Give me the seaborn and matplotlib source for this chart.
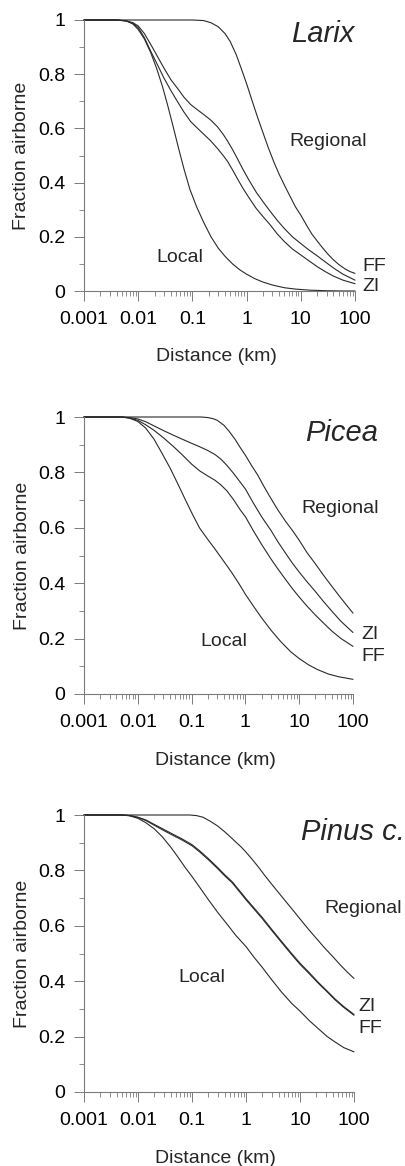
import matplotlib
matplotlib.use("Agg")
import matplotlib.pyplot as plt
import pandas as pd
import seaborn as sns
from matplotlib.ticker import FixedLocator, FixedFormatter, NullFormatter

# ---------------- data ----------------
# Larix
larix_regional_d = [0.001, 0.1, 0.16, 0.22, 0.3, 0.4, 0.5, 0.65, 0.8, 1.0, 1.25, 1.6, 2.0, 2.5,
                    3.2, 4.0, 5.0, 6.5, 8.0, 10, 13, 16, 20, 25, 32, 40, 50, 65, 80, 100]
larix_regional = [1, 1, 0.998, 0.99, 0.975, 0.95, 0.92, 0.87, 0.82, 0.765, 0.705, 0.64, 0.585, 0.53,
                  0.475, 0.43, 0.39, 0.345, 0.31, 0.28, 0.24, 0.21, 0.185, 0.16, 0.135, 0.115, 0.098,
                  0.082, 0.072, 0.065]
larix_mid_d = [0.001, 0.004, 0.006, 0.008, 0.01, 0.013, 0.017, 0.022, 0.03, 0.04, 0.053, 0.07, 0.093,
               0.125, 0.165, 0.22, 0.29, 0.37, 0.45, 0.55, 0.67, 0.85, 1.1, 1.5, 2.0, 2.7, 3.7, 5.0,
               7.0, 10, 14, 20, 28, 40, 60, 100]
larix_ff = [1, 1, 0.997, 0.99, 0.978, 0.95, 0.91, 0.87, 0.822, 0.78, 0.748, 0.715, 0.688, 0.668,
            0.65, 0.63, 0.606, 0.578, 0.552, 0.522, 0.49, 0.45, 0.41, 0.365, 0.33, 0.295, 0.26, 0.23,
            0.2, 0.175, 0.152, 0.13, 0.108, 0.085, 0.062, 0.04]
larix_zi = [1, 1, 0.996, 0.988, 0.972, 0.935, 0.885, 0.84, 0.785, 0.74, 0.699, 0.66, 0.625, 0.6,
            0.577, 0.553, 0.526, 0.5, 0.477, 0.447, 0.416, 0.38, 0.345, 0.305, 0.275, 0.245, 0.21,
            0.182, 0.155, 0.133, 0.112, 0.09, 0.072, 0.055, 0.04, 0.027]
larix_local_d = [0.001, 0.004, 0.006, 0.008, 0.01, 0.013, 0.017, 0.022, 0.028, 0.035, 0.045, 0.055,
                 0.07, 0.09, 0.12, 0.16, 0.22, 0.3, 0.4, 0.55, 0.75, 1.0, 1.4, 2.0, 3.0, 5.0, 8.0,
                 15, 30, 60, 100]
larix_local = [1, 1, 0.997, 0.985, 0.965, 0.93, 0.88, 0.82, 0.755, 0.685, 0.6, 0.53, 0.45, 0.375,
               0.31, 0.255, 0.2, 0.158, 0.128, 0.1, 0.078, 0.062, 0.046, 0.033, 0.022, 0.012, 0.007,
               0.003, 0.001, 0.0, 0.0]

# Picea
picea_regional_d = [0.001, 0.15, 0.2, 0.25, 0.3, 0.4, 0.5, 0.65, 0.8, 1.0, 1.3, 1.7, 2.2, 3.0, 4.0,
                    5.5, 7.5, 10, 14, 20, 28, 40, 55, 75, 100]
picea_regional = [1, 1, 0.998, 0.994, 0.988, 0.97, 0.948, 0.918, 0.89, 0.862, 0.825, 0.79, 0.75,
                  0.705, 0.665, 0.625, 0.59, 0.555, 0.51, 0.47, 0.43, 0.39, 0.355, 0.322, 0.292]
picea_mid_d = [0.001, 0.005, 0.007, 0.01, 0.014, 0.02, 0.03, 0.045, 0.065, 0.1, 0.14, 0.2, 0.27,
               0.35, 0.45, 0.6, 0.8, 1.0, 1.4, 2.0, 3.0, 4.0, 5.5, 7.5, 10, 14, 20, 28, 40, 60, 100]
picea_zi = [1, 1, 0.998, 0.993, 0.983, 0.968, 0.951, 0.935, 0.921, 0.905, 0.893, 0.879, 0.865,
            0.848, 0.826, 0.797, 0.765, 0.74, 0.69, 0.64, 0.59, 0.55, 0.51, 0.472, 0.44, 0.405,
            0.37, 0.335, 0.3, 0.262, 0.222]
picea_ff = [1, 1, 0.996, 0.988, 0.972, 0.952, 0.925, 0.895, 0.866, 0.83, 0.806, 0.787, 0.772,
            0.755, 0.734, 0.702, 0.665, 0.64, 0.59, 0.54, 0.487, 0.452, 0.415, 0.38, 0.35, 0.317,
            0.285, 0.257, 0.228, 0.2, 0.172]
picea_local_d = [0.001, 0.005, 0.007, 0.01, 0.014, 0.02, 0.028, 0.04, 0.055, 0.075, 0.1, 0.14, 0.2,
                 0.28, 0.4, 0.55, 0.75, 1.0, 1.4, 2.0, 3.0, 4.5, 7.0, 10, 15, 22, 35, 55, 100]
picea_local = [1, 1, 0.996, 0.984, 0.96, 0.92, 0.87, 0.815, 0.76, 0.705, 0.655, 0.6, 0.558, 0.52,
               0.478, 0.44, 0.4, 0.36, 0.318, 0.275, 0.23, 0.19, 0.152, 0.128, 0.105, 0.088, 0.072,
               0.062, 0.053]

# Pinus c.
pinus_regional_d = [0.001, 0.09, 0.12, 0.16, 0.22, 0.3, 0.4, 0.52, 0.65, 0.8, 1.0, 1.3, 1.7, 2.2,
                    3.0, 4.0, 5.5, 7.5, 10, 14, 20, 28, 40, 55, 75, 100]
pinus_regional = [1, 1, 0.998, 0.992, 0.977, 0.96, 0.94, 0.92, 0.902, 0.886, 0.866, 0.84, 0.812,
                  0.783, 0.75, 0.72, 0.687, 0.655, 0.625, 0.59, 0.555, 0.522, 0.49, 0.46, 0.433, 0.41]
pinus_mid_d = [0.001, 0.005, 0.007, 0.01, 0.014, 0.02, 0.03, 0.045, 0.065, 0.1, 0.14, 0.2, 0.3,
               0.4, 0.55, 0.75, 1.0, 1.4, 2.0, 3.0, 4.5, 7.0, 10, 15, 22, 32, 45, 65, 100]
pinus_zi = [1, 1, 0.998, 0.992, 0.982, 0.966, 0.948, 0.93, 0.914, 0.893, 0.87, 0.843, 0.81, 0.785,
            0.76, 0.728, 0.698, 0.665, 0.63, 0.587, 0.545, 0.5, 0.465, 0.43, 0.395, 0.364, 0.335,
            0.308, 0.28]
pinus_ff = [1, 1, 0.998, 0.991, 0.98, 0.963, 0.944, 0.926, 0.91, 0.889, 0.866, 0.839, 0.806, 0.781,
            0.756, 0.724, 0.694, 0.661, 0.626, 0.583, 0.541, 0.496, 0.461, 0.426, 0.392, 0.361,
            0.332, 0.305, 0.277]
pinus_local_d = [0.001, 0.005, 0.007, 0.01, 0.014, 0.02, 0.028, 0.04, 0.055, 0.075, 0.1, 0.14, 0.2,
                 0.3, 0.45, 0.65, 1.0, 1.4, 2.0, 3.0, 4.5, 7.0, 10, 15, 22, 32, 45, 65, 100]
pinus_local = [1, 1, 0.997, 0.988, 0.972, 0.95, 0.922, 0.885, 0.848, 0.81, 0.778, 0.738, 0.695,
               0.648, 0.605, 0.565, 0.525, 0.487, 0.45, 0.405, 0.362, 0.32, 0.292, 0.257, 0.228,
               0.2, 0.18, 0.16, 0.145]

x_tick_values = [0.001, 0.01, 0.1, 1, 10, 100]
x_tick_labels = ["0.001", "0.01", "0.1", "1", "10", "100"]
y_tick_values = [0, 0.2, 0.4, 0.6, 0.8, 1]
y_tick_labels = ["0", "0.2", "0.4", "0.6", "0.8", "1"]

panels = [
    ("Larix", [("Regional", larix_regional_d, larix_regional), ("FF", larix_mid_d, larix_ff),
               ("ZI", larix_mid_d, larix_zi), ("Local", larix_local_d, larix_local)]),
    ("Picea", [("Regional", picea_regional_d, picea_regional), ("ZI", picea_mid_d, picea_zi),
               ("FF", picea_mid_d, picea_ff), ("Local", picea_local_d, picea_local)]),
    ("Pinus c.", [("Regional", pinus_regional_d, pinus_regional), ("ZI", pinus_mid_d, pinus_zi),
                  ("FF", pinus_mid_d, pinus_ff), ("Local", pinus_local_d, pinus_local)]),
]

# ---------------- style ----------------
sns.set_style("ticks")
plt.rcParams["font.family"] = ["Liberation Sans", "DejaVu Sans"]

W, H = 406, 1166
fig = plt.figure(figsize=(W / 100, H / 100), dpi=100)

boxes = [(84, 355, 20, 291), (84, 353, 417, 694), (84, 354, 815, 1092)]

title_pos = [(0.882, 0.950), (0.959, 0.942), (0.996, 0.939)]
regional_pos = [(0.900, 0.553), (0.952, 0.671), (1.033, 0.664)]
local_pos = [(0.354, 0.122), (0.520, 0.188), (0.437, 0.415)]
end_labels = [
    [("FF", 1.026, 0.089), ("ZI", 1.026, 0.015)],
    [("ZI", 1.030, 0.213), ("FF", 1.030, 0.134)],
    [("ZI", 1.015, 0.307), ("FF", 1.015, 0.231)],
]

axis_grey = "#7a7a7a"
line_col = "#2a2a2a"
fs = 14

minor_x = [m * 10.0 ** e for e in range(-3, 2) for m in range(2, 10)]
minor_y = [0.1, 0.3, 0.5, 0.7, 0.9]

for i, (name, series) in enumerate(panels):
    l, r, t, b = boxes[i]
    ax = fig.add_axes([l / W, (H - b) / H, (r - l) / W, (b - t) / H])
    rows = []
    for curve, dists, vals in series:
        for d, v in zip(dists, vals):
            rows.append({"distance": d, "fraction": v, "curve": curve})
    df = pd.DataFrame(rows)
    sns.lineplot(data=df, x="distance", y="fraction", hue="curve",
                 palette={c[0]: line_col for c in series}, legend=False,
                 linewidth=0.8, ax=ax, clip_on=False, estimator=None, sort=True)
    ax.set_xscale("log")
    ax.set_xlim(0.001, 100)
    ax.set_ylim(0, 1)

    for s in ["top", "right"]:
        ax.spines[s].set_visible(False)
    for s in ["left", "bottom"]:
        ax.spines[s].set_color(axis_grey)
        ax.spines[s].set_linewidth(0.8)

    ax.xaxis.set_major_locator(FixedLocator(x_tick_values))
    ax.xaxis.set_major_formatter(FixedFormatter(x_tick_labels))
    ax.xaxis.set_minor_locator(FixedLocator(minor_x))
    ax.xaxis.set_minor_formatter(NullFormatter())
    ax.yaxis.set_major_locator(FixedLocator(y_tick_values))
    ax.yaxis.set_major_formatter(FixedFormatter(y_tick_labels))
    ax.yaxis.set_minor_locator(FixedLocator(minor_y))

    ax.tick_params(axis="both", which="major", direction="out", length=7.5, width=0.7,
                   color=axis_grey, labelsize=fs, labelcolor="black")
    ax.tick_params(axis="both", which="minor", direction="out", length=3.5, width=0.6,
                   color=axis_grey)
    ax.tick_params(axis="x", which="major", pad=7)
    ax.tick_params(axis="y", which="major", pad=6)

    ax.set_xlabel("Distance (km)", fontsize=fs, va="center", ha="center")
    ax.xaxis.set_label_coords(0.487, -0.240)
    ax.set_ylabel("Fraction airborne", fontsize=fs, va="center", ha="center")
    ax.yaxis.set_label_coords(-0.229, 0.5)

    ax.text(*title_pos[i], name, transform=ax.transAxes, fontsize=21, style="italic",
            ha="center", va="center")
    ax.text(*regional_pos[i], "Regional", transform=ax.transAxes, fontsize=fs,
            ha="center", va="center")
    ax.text(*local_pos[i], "Local", transform=ax.transAxes, fontsize=fs,
            ha="center", va="center")
    for lab, xx, yy in end_labels[i]:
        ax.text(xx, yy, lab, transform=ax.transAxes, fontsize=fs, ha="left", va="center")

fig.savefig("out.png", dpi=100, facecolor="white")
